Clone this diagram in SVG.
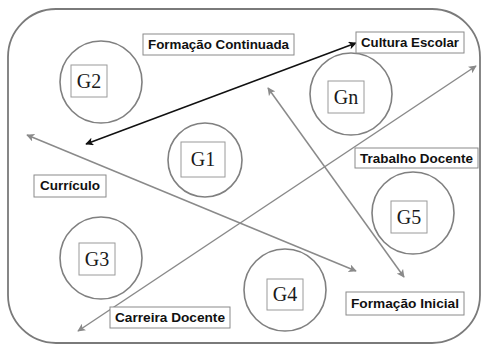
<svg xmlns="http://www.w3.org/2000/svg" width="482" height="345" viewBox="0 0 482 345">
  <style>
    .frame { fill: #ffffff; stroke: #7a7a7a; stroke-width: 1.8; }
    .group circle { fill: none; stroke: #808080; stroke-width: 1.6; }
    .group rect { fill: #ffffff; stroke: #9a9a9a; stroke-width: 1; }
    .group text { font-family: "Liberation Serif", "DejaVu Serif", serif; font-size: 20px; fill: #1a1a1a; text-anchor: middle; }
    .topic rect { fill: #ffffff; stroke: #8a8a8a; stroke-width: 1; }
    .topic text { font-family: "Liberation Sans", Arial, sans-serif; font-weight: bold; font-size: 13px; fill: #111111; }
    .link { fill: none; stroke-width: 1.5; }
    .gray { stroke: #8a8a8a; }
    .dark { stroke: #111111; }
  </style>
  <defs>
    <marker id="headGray" viewBox="0 0 10 10" refX="9" refY="5" markerWidth="8" markerHeight="8" orient="auto-start-reverse" markerUnits="userSpaceOnUse">
      <path d="M0,0 L10,5 L0,10 L2.5,5 Z" fill="#8a8a8a"/>
    </marker>
    <marker id="headDark" viewBox="0 0 10 10" refX="9" refY="5" markerWidth="8" markerHeight="8" orient="auto-start-reverse" markerUnits="userSpaceOnUse">
      <path d="M0,0 L10,5 L0,10 L2.5,5 Z" fill="#111111"/>
    </marker>
  </defs>

  <rect class="frame" x="8" y="9" width="472" height="334" rx="48" ry="48"/>

  <g id="connectors">
    <line class="link dark" x1="86" y1="144" x2="356" y2="43" marker-start="url(#headDark)" marker-end="url(#headDark)"/>
    <line class="link gray" x1="27" y1="135" x2="356" y2="271" marker-start="url(#headGray)" marker-end="url(#headGray)"/>
    <line class="link gray" x1="78" y1="331" x2="476" y2="66" marker-start="url(#headGray)" marker-end="url(#headGray)"/>
    <line class="link gray" x1="268" y1="88" x2="404" y2="277" marker-start="url(#headGray)" marker-end="url(#headGray)"/>
  </g>

  <g id="g2" class="group">
    <circle cx="101" cy="82" r="41"/>
    <rect x="71" y="65" width="36" height="32"/>
    <text x="89" y="88">G2</text>
  </g>
  <g id="g1" class="group">
    <circle cx="205" cy="160" r="37"/>
    <rect x="181" y="142" width="44" height="35"/>
    <text x="203" y="166">G1</text>
  </g>
  <g id="gn" class="group">
    <circle cx="351" cy="94" r="41"/>
    <rect x="328" y="81" width="36" height="32"/>
    <text x="346" y="104">Gn</text>
  </g>
  <g id="g3" class="group">
    <circle cx="101" cy="258" r="41"/>
    <rect x="79" y="243" width="36" height="32"/>
    <text x="97" y="266">G3</text>
  </g>
  <g id="g5" class="group">
    <circle cx="413" cy="213" r="41"/>
    <rect x="391" y="201" width="36" height="32"/>
    <text x="409" y="224">G5</text>
  </g>
  <g id="g4" class="group">
    <circle cx="285" cy="290" r="41"/>
    <rect x="267" y="279" width="36" height="31"/>
    <text x="285" y="301">G4</text>
  </g>

  <g id="formacao-continuada" class="topic">
    <rect x="143" y="34" width="151" height="21"/>
    <text x="148" y="49" textLength="141" lengthAdjust="spacingAndGlyphs">Formação Continuada</text>
  </g>
  <g id="cultura-escolar" class="topic">
    <rect x="356" y="32" width="108" height="21"/>
    <text x="361" y="47" textLength="98" lengthAdjust="spacingAndGlyphs">Cultura Escolar</text>
  </g>
  <g id="trabalho-docente" class="topic">
    <rect x="355" y="148" width="123" height="20"/>
    <text x="360" y="163" textLength="113" lengthAdjust="spacingAndGlyphs">Trabalho Docente</text>
  </g>
  <g id="curriculo" class="topic">
    <rect x="34" y="175" width="72" height="22"/>
    <text x="40" y="190" textLength="60" lengthAdjust="spacingAndGlyphs">Currículo</text>
  </g>
  <g id="carreira-docente" class="topic">
    <rect x="110" y="307" width="120" height="21"/>
    <text x="115" y="322" textLength="110" lengthAdjust="spacingAndGlyphs">Carreira Docente</text>
  </g>
  <g id="formacao-inicial" class="topic">
    <rect x="346" y="292" width="118" height="23"/>
    <text x="351" y="308" textLength="108" lengthAdjust="spacingAndGlyphs">Formação Inicial</text>
  </g>
</svg>
